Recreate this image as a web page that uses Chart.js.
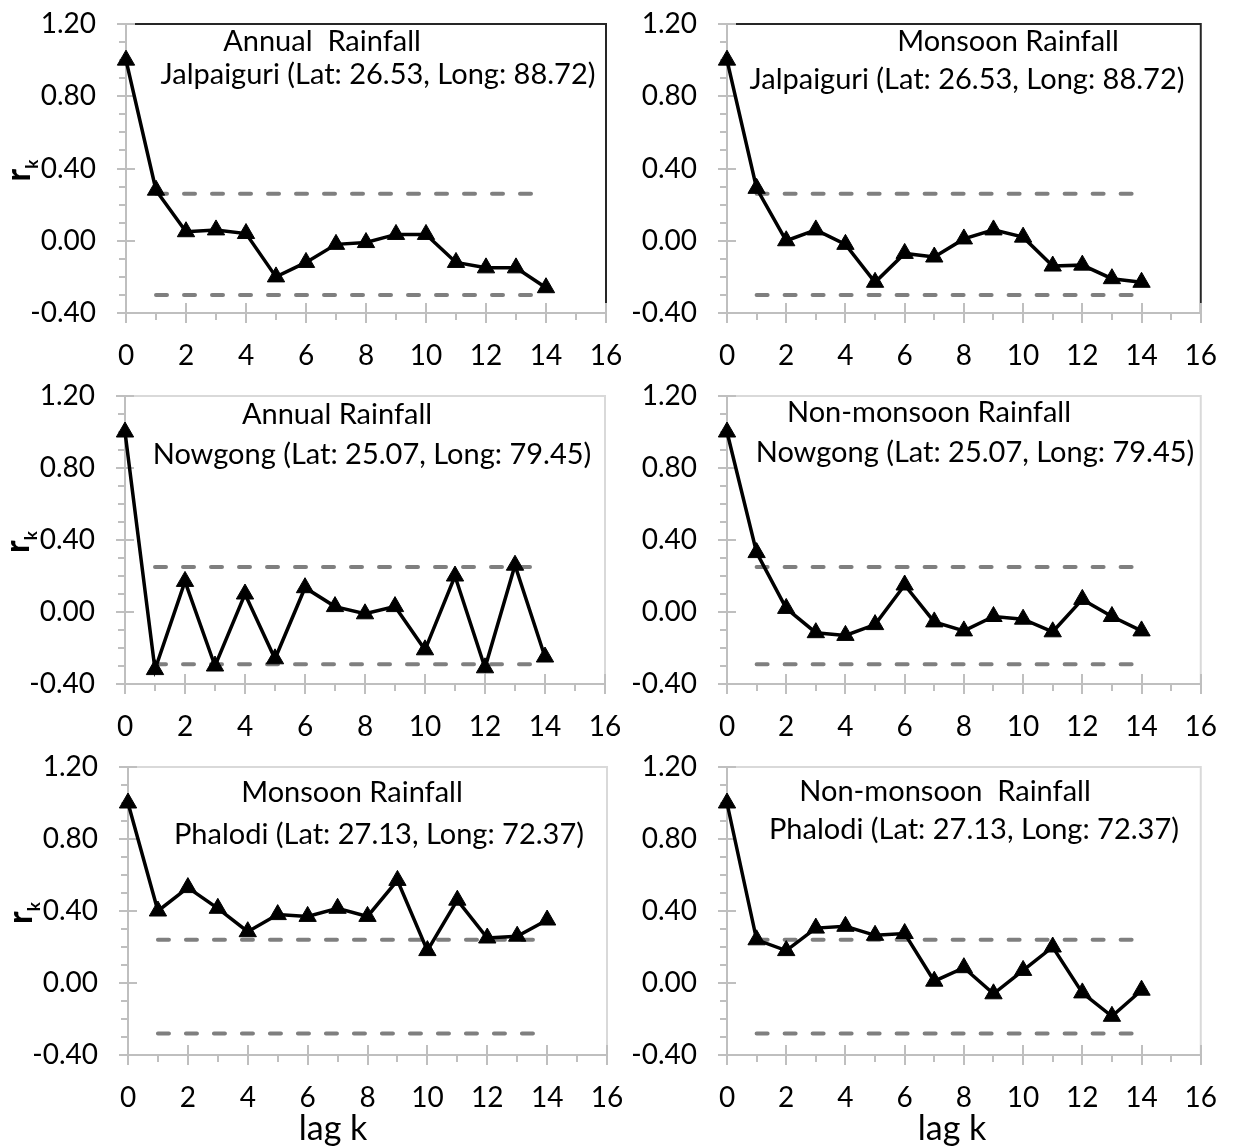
<!DOCTYPE html>
<html>
<head>
<meta charset="utf-8">
<script src="https://cdn.jsdelivr.net/npm/chart.js@4.4.0/dist/chart.umd.min.js"></script>
<style>
  html, body { margin: 0; padding: 0; background: #ffffff; }
  #wrap { position: relative; width: 1243px; height: 1146px; overflow: hidden; }
  #wrap canvas { position: absolute; }
</style>
</head>
<body>
<div id="wrap"></div>
<script>
// lag values shared by every panel
var lags = [0, 1, 2, 3, 4, 5, 6, 7, 8, 9, 10, 11, 12, 13, 14];

// autocorrelation r_k
var jalpaiguriAnnual = [1.00, 0.28, 0.05, 0.06, 0.04, -0.20, -0.12, -0.02, -0.01, 0.035, 0.035, -0.12, -0.15, -0.15, -0.26];
var jalpaiguriMonsoon = [1.00, 0.29, 0.00, 0.06, -0.02, -0.23, -0.07, -0.09, 0.01, 0.06, 0.02, -0.14, -0.135, -0.21, -0.23];
var nowgongAnnual = [1.00, -0.32, 0.17, -0.30, 0.10, -0.26, 0.135, 0.03, -0.01, 0.03, -0.21, 0.20, -0.31, 0.26, -0.25];
var nowgongNonMonsoon = [1.00, 0.33, 0.02, -0.115, -0.13, -0.07, 0.15, -0.055, -0.105, -0.025, -0.04, -0.11, 0.07, -0.025, -0.105];
var phalodiMonsoon = [1.00, 0.40, 0.53, 0.415, 0.285, 0.38, 0.37, 0.415, 0.37, 0.57, 0.18, 0.46, 0.25, 0.26, 0.35];
var phalodiNonMonsoon = [1.00, 0.24, 0.18, 0.305, 0.315, 0.265, 0.275, 0.01, 0.085, -0.06, 0.07, 0.20, -0.055, -0.185, -0.04];

// confidence limits (dashed lines) per panel
var limitLags = [1, 14];
var upperLimits = [0.26, 0.26, 0.25, 0.25, 0.24, 0.24];
var lowerLimits = [-0.30, -0.30, -0.29, -0.29, -0.28, -0.28];

var seasonTitles = ['Annual  Rainfall', 'Monsoon Rainfall', 'Annual Rainfall', 'Non-monsoon Rainfall', 'Monsoon Rainfall', 'Non-monsoon  Rainfall'];
var stationTitles = [
    'Jalpaiguri (Lat: 26.53, Long: 88.72)',
    'Jalpaiguri (Lat: 26.53, Long: 88.72)',
    'Nowgong (Lat: 25.07, Long: 79.45)',
    'Nowgong (Lat: 25.07, Long: 79.45)',
    'Phalodi (Lat: 27.13, Long: 72.37)',
    'Phalodi (Lat: 27.13, Long: 72.37)'
];

// axis ranges and tick steps
var xRange = [0, 16];
var yRange = [-0.4, 1.2];
var xMajorStep = 2, xMinorStep = 1;
var yMajorStep = 0.4, yMinorStep = 0.1;
var yAxisTitle = 'r';
var yAxisSub = 'k';
var xAxisTitle = 'lag k';

var series = [jalpaiguriAnnual, jalpaiguriMonsoon, nowgongAnnual, nowgongNonMonsoon, phalodiMonsoon, phalodiNonMonsoon];

// where each plot area sits on the page, and where its notes go
var panels = [
    { area: [126, 24, 606, 313], frame: '#262626', t1: [196, 18], t2: [252, 51], yTitle: true, xTitle: false },
    { area: [727, 24, 1206, 313], frame: '#262626', t1: [281, 18], t2: [240, 56], yTitle: false, xTitle: false },
    { area: [125, 396, 605, 684], frame: '#d9d9d9', t1: [212, 19], t2: [247, 59], yTitle: true, xTitle: false },
    { area: [727, 396, 1206, 684], frame: '#d9d9d9', t1: [202, 17], t2: [248, 57], yTitle: false, xTitle: false },
    { area: [128, 767, 607, 1055], frame: '#d9d9d9', t1: [224, 26], t2: [251, 68], yTitle: true, xTitle: true, xTitleX: 205 },
    { area: [727, 767, 1206, 1055], frame: '#d9d9d9', t1: [218, 25], t2: [247, 63], yTitle: false, xTitle: true, xTitleX: 225 }
];

Chart.defaults.font.family = 'Lato';
Chart.defaults.color = '#000000';

var axisMarks = {
    id: 'axisMarks',
    beforeDatasetsDraw: function (chart) {
        var ctx = chart.ctx;
        var a = chart.chartArea;
        var xs = chart.scales.x;
        var ys = chart.scales.y;
        var opt = chart.options.plugins.axisMarks;
        ctx.save();
        ctx.lineWidth = 2;

        // top and right frame
        ctx.strokeStyle = opt.frame;
        ctx.beginPath();
        ctx.moveTo(a.left + 9, a.top);
        ctx.lineTo(a.right, a.top);
        ctx.lineTo(a.right, a.bottom);
        ctx.stroke();

        // axis lines and tick marks
        ctx.strokeStyle = '#bfbfbf';
        ctx.beginPath();
        ctx.moveTo(a.left, a.top);
        ctx.lineTo(a.left, a.bottom);
        ctx.lineTo(a.right, a.bottom);

        var nY = Math.round((yRange[1] - yRange[0]) / yMinorStep);
        var perMajorY = Math.round(yMajorStep / yMinorStep);
        for (var i = 0; i <= nY; i++) {
            var y = Math.round(ys.getPixelForValue(yRange[0] + i * yMinorStep));
            var majorY = i % perMajorY === 0;
            ctx.moveTo(a.left - (majorY ? 9 : 7), y);
            ctx.lineTo(a.left + (majorY ? 9 : 0), y);
        }
        var nX = Math.round((xRange[1] - xRange[0]) / xMinorStep);
        var perMajorX = Math.round(xMajorStep / xMinorStep);
        for (var k = 0; k <= nX; k++) {
            var x = Math.round(xs.getPixelForValue(xRange[0] + k * xMinorStep));
            var majorX = k % perMajorX === 0;
            ctx.moveTo(x, a.bottom - (majorX ? 10 : 0));
            ctx.lineTo(x, a.bottom + (majorX ? 10 : 7));
        }
        ctx.stroke();
        ctx.restore();
    },
    afterDatasetsDraw: function (chart) {
        var ctx = chart.ctx;
        var a = chart.chartArea;
        var ys = chart.scales.y;
        var opt = chart.options.plugins.axisMarks;
        ctx.save();
        ctx.fillStyle = '#000000';
        ctx.textAlign = 'center';
        ctx.textBaseline = 'middle';
        ctx.font = '29px Lato';
        ctx.fillText(opt.season, a.left + opt.t1[0], a.top + opt.t1[1]);
        ctx.fillText(opt.station, a.left + opt.t2[0], a.top + opt.t2[1]);

        if (opt.xTitle) {
            ctx.font = '34px Lato';
            ctx.fillText(xAxisTitle, a.left + opt.xTitleX, a.bottom + 74);
        }

        if (opt.yTitle) {
            // rotated r with subscript k
            ctx.translate(a.left - 96, ys.getPixelForValue(0.4) + 13);
            ctx.rotate(-Math.PI / 2);
            ctx.textAlign = 'left';
            ctx.textBaseline = 'alphabetic';
            ctx.font = 'bold 34px Lato';
            ctx.fillText(yAxisTitle, 0, 0);
            var w = ctx.measureText(yAxisTitle).width;
            ctx.font = 'bold 17px Lato';
            ctx.fillText(yAxisSub, w, 8);
        }
        ctx.restore();
    }
};

function makePanel(idx) {
    var p = panels[idx];
    var col = idx % 2;
    var left = p.area[0], top = p.area[1], right = p.area[2], bottom = p.area[3];
    var cx = col === 0 ? 0 : 620;
    var cw = col === 0 ? 650 : 623;
    var cy = top - 55;
    var ch = Math.min(1146, bottom + 91) - cy;

    var canvas = document.createElement('canvas');
    canvas.width = cw;
    canvas.height = ch;
    canvas.style.left = cx + 'px';
    canvas.style.top = cy + 'px';
    canvas.style.width = cw + 'px';
    canvas.style.height = ch + 'px';
    document.getElementById('wrap').appendChild(canvas);

    var values = series[idx];
    var points = [];
    for (var i = 0; i < lags.length; i++) {
        points.push({ x: lags[i], y: values[i] });
    }
    var upper = limitLags.map(function (l) { return { x: l, y: upperLimits[idx] }; });
    var lower = limitLags.map(function (l) { return { x: l, y: lowerLimits[idx] }; });

    var yWidth = left - cx;
    var xHeight = cy + ch - bottom;

    new Chart(canvas.getContext('2d'), {
        type: 'line',
        data: {
            datasets: [
                {
                    data: points,
                    borderColor: '#000000',
                    backgroundColor: '#000000',
                    borderWidth: 3.5,
                    pointStyle: 'triangle',
                    pointRadius: 10,
                    pointBorderWidth: 1,
                    pointBackgroundColor: '#000000',
                    pointBorderColor: '#000000',
                    tension: 0,
                    clip: false
                },
                {
                    data: upper,
                    borderColor: '#7f7f7f',
                    borderWidth: 4,
                    borderDash: [11, 17],
                    borderCapStyle: 'round',
                    pointRadius: 0,
                    clip: false
                },
                {
                    data: lower,
                    borderColor: '#7f7f7f',
                    borderWidth: 4,
                    borderDash: [11, 17],
                    borderCapStyle: 'round',
                    pointRadius: 0,
                    clip: false
                }
            ]
        },
        options: {
            responsive: false,
            animation: false,
            devicePixelRatio: 1,
            layout: {
                padding: { left: 0, top: top - cy, right: cx + cw - right, bottom: 0 }
            },
            scales: {
                x: {
                    type: 'linear',
                    min: xRange[0],
                    max: xRange[1],
                    grid: { display: false, drawTicks: false },
                    border: { display: false },
                    ticks: {
                        stepSize: xMajorStep,
                        padding: 26,
                        font: { size: 28 },
                        color: '#000000',
                        maxRotation: 0,
                        autoSkip: false,
                        callback: function (v) { return String(v); }
                    },
                    afterFit: function (s) { s.height = xHeight; }
                },
                y: {
                    type: 'linear',
                    min: yRange[0],
                    max: yRange[1],
                    grid: { display: false, drawTicks: false },
                    border: { display: false },
                    ticks: {
                        stepSize: yMajorStep,
                        padding: 30,
                        font: { size: 28 },
                        color: '#000000',
                        callback: function (v) { return v.toFixed(2); }
                    },
                    afterFit: function (s) { s.width = yWidth; }
                }
            },
            plugins: {
                legend: { display: false },
                tooltip: { enabled: false },
                title: { display: false },
                axisMarks: {
                    frame: p.frame,
                    season: seasonTitles[idx],
                    station: stationTitles[idx],
                    t1: p.t1,
                    t2: p.t2,
                    yTitle: p.yTitle,
                    xTitle: p.xTitle,
                    xTitleX: p.xTitleX
                }
            }
        },
        plugins: [axisMarks]
    });
}

for (var n = 0; n < panels.length; n++) {
    makePanel(n);
}
</script>
</body>
</html>
